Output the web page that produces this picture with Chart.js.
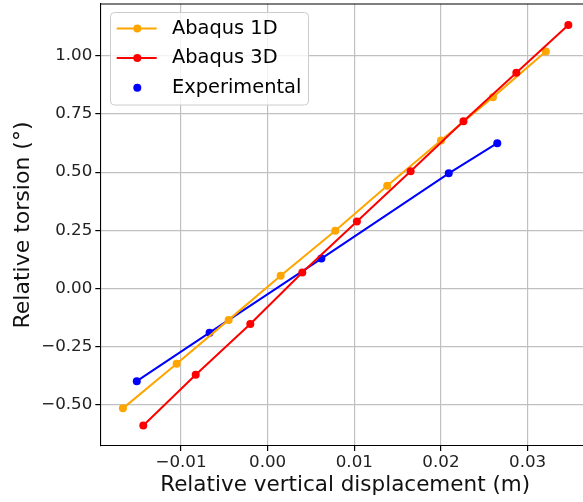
<!DOCTYPE html>
<html>
<head>
<meta charset="utf-8">
<script src="https://cdn.jsdelivr.net/npm/chart.js@4/dist/chart.umd.min.js"></script>
<style>
  html, body { margin: 0; background: #fff; overflow: hidden; }
  #wrap { width: 600px; height: 502px; }
</style>
</head>
<body>
<div id="wrap"><canvas id="chart" width="600" height="502"></canvas></div>
<script>
// Data
const xs1D = [-0.0167, -0.0105, -0.0045, 0.0015, 0.0078, 0.0138, 0.0200, 0.0260, 0.0321];
const ys1D = [-0.517, -0.325, -0.136, 0.054, 0.248, 0.441, 0.636, 0.823, 1.019];
const xs3D = [-0.01435, -0.0083, -0.0020, 0.0040, 0.0103, 0.0165, 0.0226, 0.0287, 0.0347];
const ys3D = [-0.591, -0.372, -0.154, 0.068, 0.288, 0.504, 0.719, 0.928, 1.134];
const xsExp = [-0.0151, -0.0067, 0.0062, 0.0209, 0.0265];
const ysExp = [-0.400, -0.191, 0.128, 0.495, 0.625];

const xTicks = [-0.01, 0.00, 0.01, 0.02, 0.03];
const yTicks = [-0.50, -0.25, 0.00, 0.25, 0.50, 0.75, 1.00];

const seriesNames = ["Abaqus 1D", "Abaqus 3D", "Experimental"];
const seriesColors = ["orange", "red", "blue"];

const FONT = "'DejaVu Sans', sans-serif";

const toPoints = (xs, ys) => xs.map((x, i) => ({ x: x, y: ys[i] }));
const fmt = (v) => {
    const s = Number(v).toFixed(2);
    return s.replace("-", "\u2212");
};

// drop chart.js' automatic label padding so the plot box is where we want it
const noPadding = (scale) => {
    scale.paddingTop = 0;
    scale.paddingBottom = 0;
    scale.paddingLeft = 0;
    scale.paddingRight = 0;
};

// legend + top/right spines, drawn like matplotlib
const mplLegend = {
    id: "mplLegend",
    afterDraw(chart) {
        const ctx = chart.ctx;
        const area = chart.chartArea;
        ctx.save();
        ctx.strokeStyle = "#000";
        ctx.lineWidth = 1.1;
        ctx.beginPath();
        ctx.moveTo(area.left, area.top);
        ctx.lineTo(area.right, area.top);
        ctx.lineTo(area.right, area.bottom);
        ctx.stroke();

        // legend frame
        const bx = 110.5, by = 12.5, bw = 198, bh = 92.5, r = 4;
        ctx.beginPath();
        ctx.roundRect(bx, by, bw, bh, r);
        ctx.fillStyle = "rgba(255,255,255,0.8)";
        ctx.fill();
        ctx.strokeStyle = "#cccccc";
        ctx.lineWidth = 1;
        ctx.stroke();

        const rows = [28.5, 58, 87.8];
        ctx.font = "19.4px " + FONT;
        ctx.textBaseline = "middle";
        rows.forEach((ry, i) => {
            const c = seriesColors[i];
            if (i < 2) {
                ctx.strokeStyle = c;
                ctx.lineWidth = 2;
                ctx.beginPath();
                ctx.moveTo(116.7, ry);
                ctx.lineTo(156.7, ry);
                ctx.stroke();
            }
            ctx.fillStyle = c;
            ctx.beginPath();
            ctx.arc(137.3, ry, 4, 0, Math.PI * 2);
            ctx.fill();
            ctx.fillStyle = "#000";
            ctx.fillText(seriesNames[i], 172, ry);
        });
        ctx.restore();
    }
};

const makeDataset = (i, xs, ys, order) => ({
    label: seriesNames[i],
    data: toPoints(xs, ys),
    borderColor: seriesColors[i],
    backgroundColor: seriesColors[i],
    pointBackgroundColor: seriesColors[i],
    pointBorderWidth: 0,
    pointRadius: 4,
    borderWidth: 2,
    tension: 0,
    showLine: true,
    order: order,
});

new Chart(document.getElementById("chart"), {
    type: "scatter",
    data: {
        datasets: [
            makeDataset(0, xs1D, ys1D, 1),
            makeDataset(1, xs3D, ys3D, 0),
            makeDataset(2, xsExp, ysExp, 2),
        ],
    },
    options: {
        responsive: false,
        animation: false,
        layout: { padding: { top: 2, right: 10, left: 0, bottom: 0 } },
        plugins: {
            legend: { display: false },
            tooltip: { enabled: false },
        },
        scales: {
            x: {
                type: "linear",
                min: -0.01931,
                max: 0.0372,
                afterFit: (scale) => { scale.height = 56; noPadding(scale); },
                afterBuildTicks: (scale) => { scale.ticks = xTicks.map((v) => ({ value: v })); },
                ticks: {
                    callback: fmt,
                    font: { family: FONT, size: 16.7 },
                    color: "#222",
                    padding: 2,
                    maxRotation: 0,
                },
                grid: {
                    color: "#c0c0c0",
                    lineWidth: 1.2,
                    tickLength: 5,
                    tickColor: "#000",
                },
                border: { color: "#000", width: 1.1 },
                title: {
                    display: true,
                    text: "Relative vertical displacement (m)",
                    font: { family: FONT, size: 21.5, lineHeight: 1.2 },
                    color: "#111",
                    padding: { top: 0, bottom: 4 },
                },
            },
            y: {
                type: "linear",
                min: -0.679,
                max: 1.224,
                afterFit: (scale) => { scale.width = 100.3; noPadding(scale); },
                afterBuildTicks: (scale) => { scale.ticks = yTicks.map((v) => ({ value: v })); },
                ticks: {
                    callback: fmt,
                    font: { family: FONT, size: 16.7 },
                    color: "#222",
                    padding: 3,
                },
                grid: {
                    color: "#c0c0c0",
                    lineWidth: 1.2,
                    tickLength: 5,
                    tickColor: "#000",
                },
                border: { color: "#000", width: 1.1 },
                title: {
                    display: true,
                    text: "Relative torsion (°)",
                    font: { family: FONT, size: 22, lineHeight: 1.2 },
                    color: "#111",
                    padding: { top: 10, bottom: 0 },
                },
            },
        },
    },
    plugins: [mplLegend],
});
</script>
</body>
</html>
